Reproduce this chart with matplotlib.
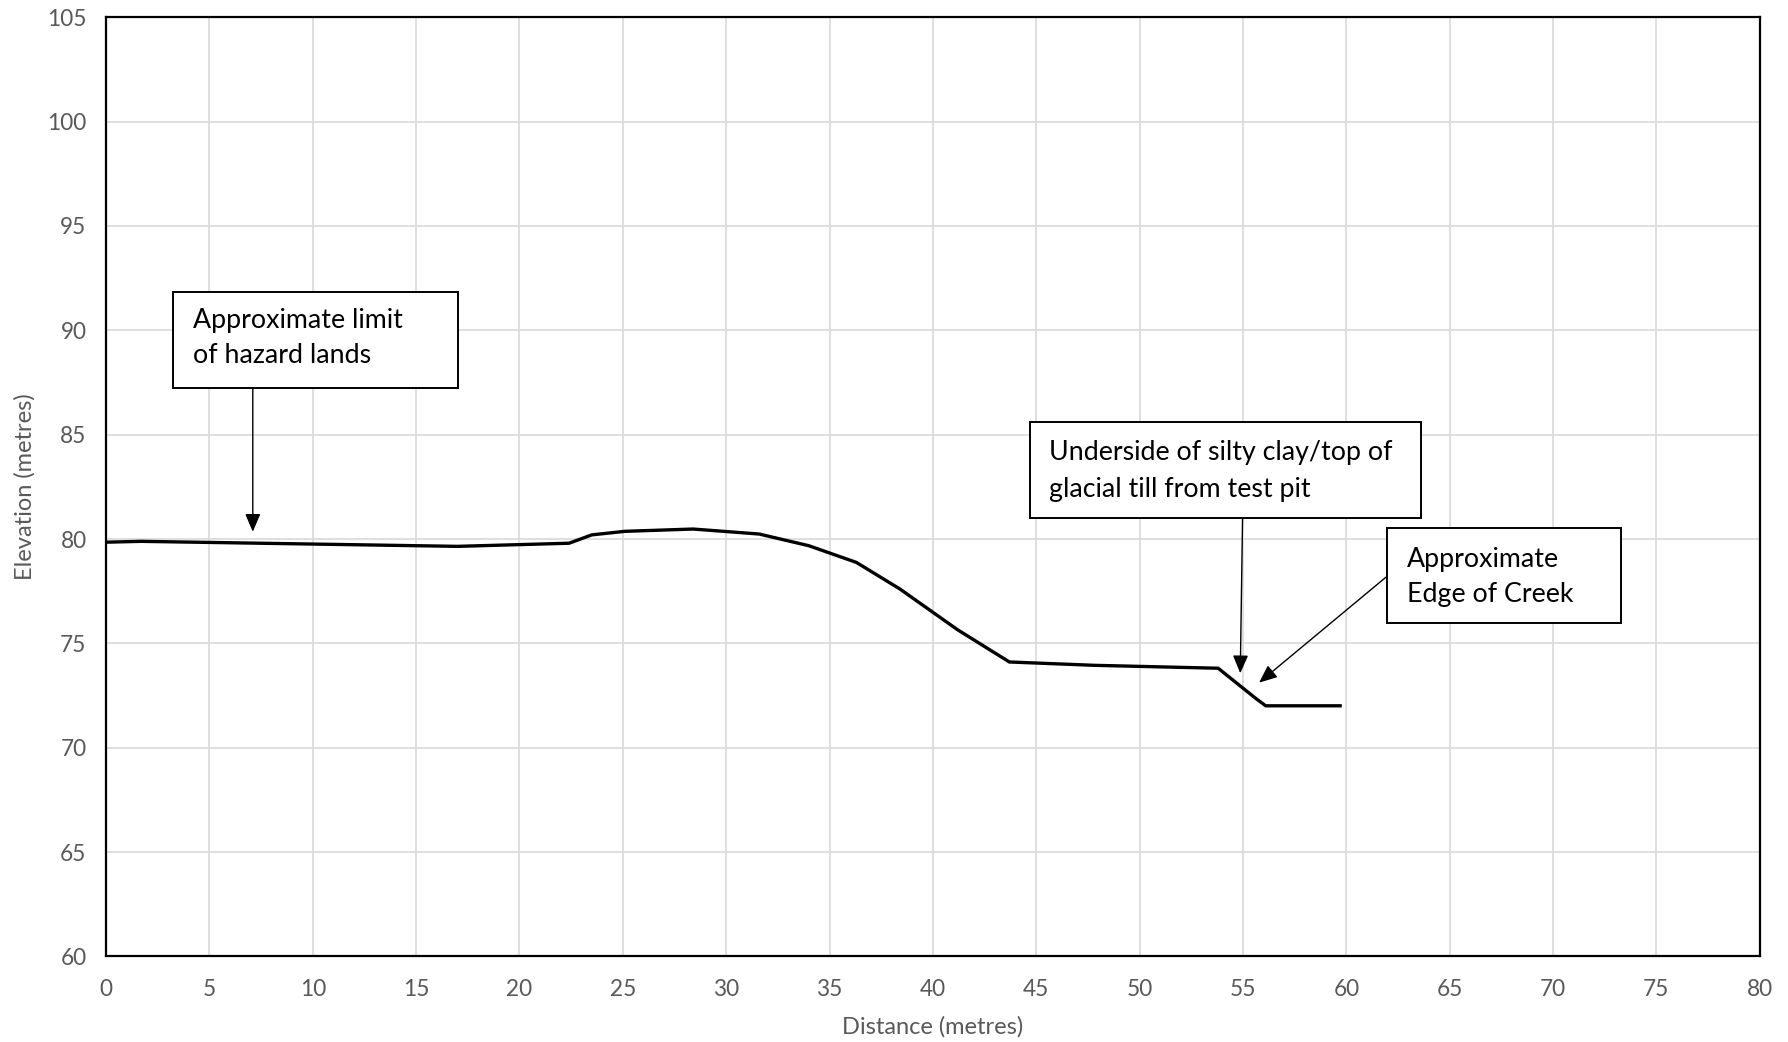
import matplotlib
matplotlib.use("Agg")
import matplotlib.pyplot as plt
from matplotlib.patches import Rectangle

# ---- data ----
distance = [0, 1.7, 17.0, 22.4, 23.5, 25.1, 28.4, 31.6, 34.0, 36.3, 38.4, 41.2,
            43.7, 47.8, 53.8, 55.6, 56.1, 59.7]
elevation = [79.85, 79.89, 79.65, 79.80, 80.20, 80.37, 80.48, 80.24, 79.68, 78.88,
             77.61, 75.65, 74.11, 73.95, 73.81, 72.38, 72.01, 72.01]
x_ticks = list(range(0, 81, 5))
y_ticks = list(range(60, 106, 5))
x_label = "Distance (metres)"
y_label = "Elevation (metres)"

notes = [
    "Approximate limit\nof hazard lands",
    "Underside of silty clay/top of\nglacial till from test pit",
    "Approximate\nEdge of Creek",
]

plt.rcParams['font.family'] = ['Lato', 'DejaVu Sans']
GRAY = "#595959"

fig = plt.figure(figsize=(17.88, 10.42), dpi=100)
ax = fig.add_axes([0.0593, 0.0821, 0.9842 - 0.0593, 0.9834 - 0.0821])

ax.plot(distance, elevation, color="black", lw=2.4, solid_joinstyle="miter", zorder=3)

ax.set_xlim(0, 80)
ax.set_ylim(60, 105)
ax.set_xticks(x_ticks)
ax.set_yticks(y_ticks)
ax.grid(True, color="#d9d9d9", lw=1.2, zorder=0)
ax.set_axisbelow(True)
ax.tick_params(length=0, labelsize=16.3, labelcolor=GRAY)
ax.tick_params(axis="x", pad=16)
ax.tick_params(axis="y", pad=14)
for s in ax.spines.values():
    s.set_color("black")
    s.set_linewidth(1.6)
ax.set_xlabel(x_label, fontsize=17, color=GRAY, labelpad=12)
ax.set_ylabel(y_label, fontsize=17, color=GRAY, labelpad=8)

# ---- annotation boxes ----
boxes = [
    (3.26, 87.23, 17.01 - 3.26, 91.85 - 87.23),
    (44.68, 81.0, 63.60 - 44.68, 85.63 - 81.0),
    (61.95, 75.97, 73.27 - 61.95, 80.52 - 75.97),
]
text_pos = [
    (4.22, [90.10, 88.42]),
    (45.62, [83.79, 82.03]),
    (62.94, [78.68, 77.00]),
]
arrows = [
    ((7.10, 87.23), (7.10, 80.35)),
    ((54.98, 81.0), (54.87, 73.57)),
    ((61.95, 78.20), (55.78, 73.12)),
]

for (bx, by, bw, bh), (tx, tys), note in zip(boxes, text_pos, notes):
    ax.add_patch(Rectangle((bx, by), bw, bh, facecolor="white", edgecolor="black",
                           lw=1.4, zorder=5))
    for line, ty in zip(note.split("\n"), tys):
        ax.text(tx, ty, line, fontsize=19.3, color="black", va="baseline",
                ha="left", zorder=6)

for start, end in arrows:
    ax.annotate("", xy=end, xytext=start,
                arrowprops=dict(arrowstyle="-|>,head_length=11,head_width=4.7",
                                mutation_scale=1, lw=1.0, color="black",
                                shrinkA=0, shrinkB=0),
                zorder=4)

fig.savefig("out.png", dpi=100)
